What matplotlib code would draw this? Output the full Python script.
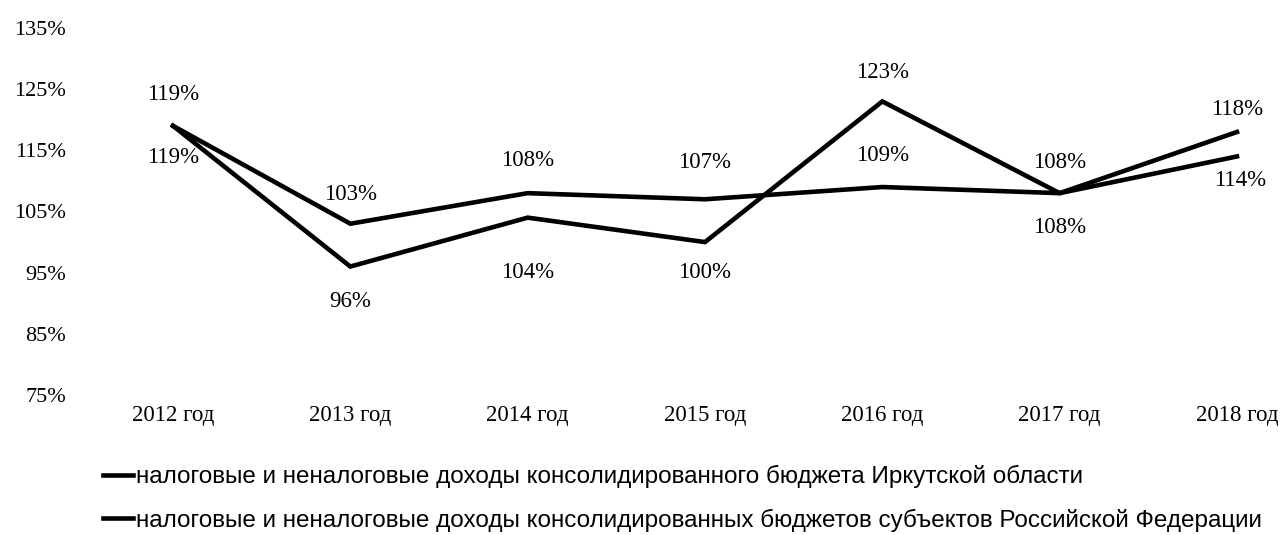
import matplotlib
matplotlib.use("Agg")
import matplotlib.pyplot as plt

years = ["2012 год", "2013 год", "2014 год", "2015 год", "2016 год", "2017 год", "2018 год"]
irkutsk = [119, 96, 104, 100, 123, 108, 118]
rf = [119, 103, 108, 107, 109, 108, 114]
yticks = [75, 85, 95, 105, 115, 125, 135]
legend_labels = [
    "налоговые и неналоговые доходы консолидированного бюджета Иркутской области",
    "налоговые и неналоговые доходы консолидированных бюджетов субъектов Российской Федерации",
]

# label offsets in pixels (dx, dy) relative to the point
irk_off = [(0, 31), (0, -35), (0, -55), (0, -30), (0, 29), (0, -34), (0, 22)]
rf_off = [(0, -32), (0, 29), (0, 33), (0, 37), (0, 32), (0, 31), (3, -24)]

W, H = 1284, 535
fig = plt.figure(figsize=(W / 100, H / 100), dpi=100)
left_px, right_px = 84, 1270
top_px, bot_px = 28, 395
ax = fig.add_axes([left_px / W, 1 - bot_px / H, (right_px - left_px) / W, (bot_px - top_px) / H])

x = list(range(len(years)))
l1, = ax.plot(x, irkutsk, color="black", lw=3.3, solid_joinstyle="miter")
l2, = ax.plot(x, rf, color="black", lw=3.3, solid_joinstyle="miter")

x0 = (left_px - 173) / 177.33
x1 = (right_px - 173) / 177.33
ax.set_xlim(x0, x1)
ax.set_ylim(75, 135)

serif = "Liberation Serif"
fs = 16.5
ax.set_yticks(yticks)
ax.set_yticklabels([f"{v}%" for v in yticks], fontfamily=serif, fontsize=16)
ax.set_xticks(x)
ax.set_xticklabels(years, fontfamily=serif, fontsize=fs)
ax.tick_params(length=0)
ax.tick_params(axis="x", pad=7)
ax.tick_params(axis="y", pad=13)
for s in ax.spines.values():
    s.set_visible(False)

pt = 72 / 100
for xi, v, (dx, dy) in zip(x, irkutsk, irk_off):
    ax.annotate(f"{v}%", (xi, v), xytext=(dx * pt, dy * pt), textcoords="offset points",
                ha="center", va="center", fontfamily=serif, fontsize=fs)
for xi, v, (dx, dy) in zip(x, rf, rf_off):
    ax.annotate(f"{v}%", (xi, v), xytext=(dx * pt, dy * pt), textcoords="offset points",
                ha="center", va="center", fontfamily=serif, fontsize=fs)

leg = fig.legend([l1, l2], legend_labels, loc="upper left",
                 bbox_to_anchor=(103 / W, 1 - 465 / H), frameon=False,
                 prop={"family": "Liberation Sans", "size": 17.5},
                 handlelength=1.25, handletextpad=0.1, labelspacing=0.85,
                 borderpad=0, borderaxespad=0)

fig.savefig("out.png", dpi=100)
